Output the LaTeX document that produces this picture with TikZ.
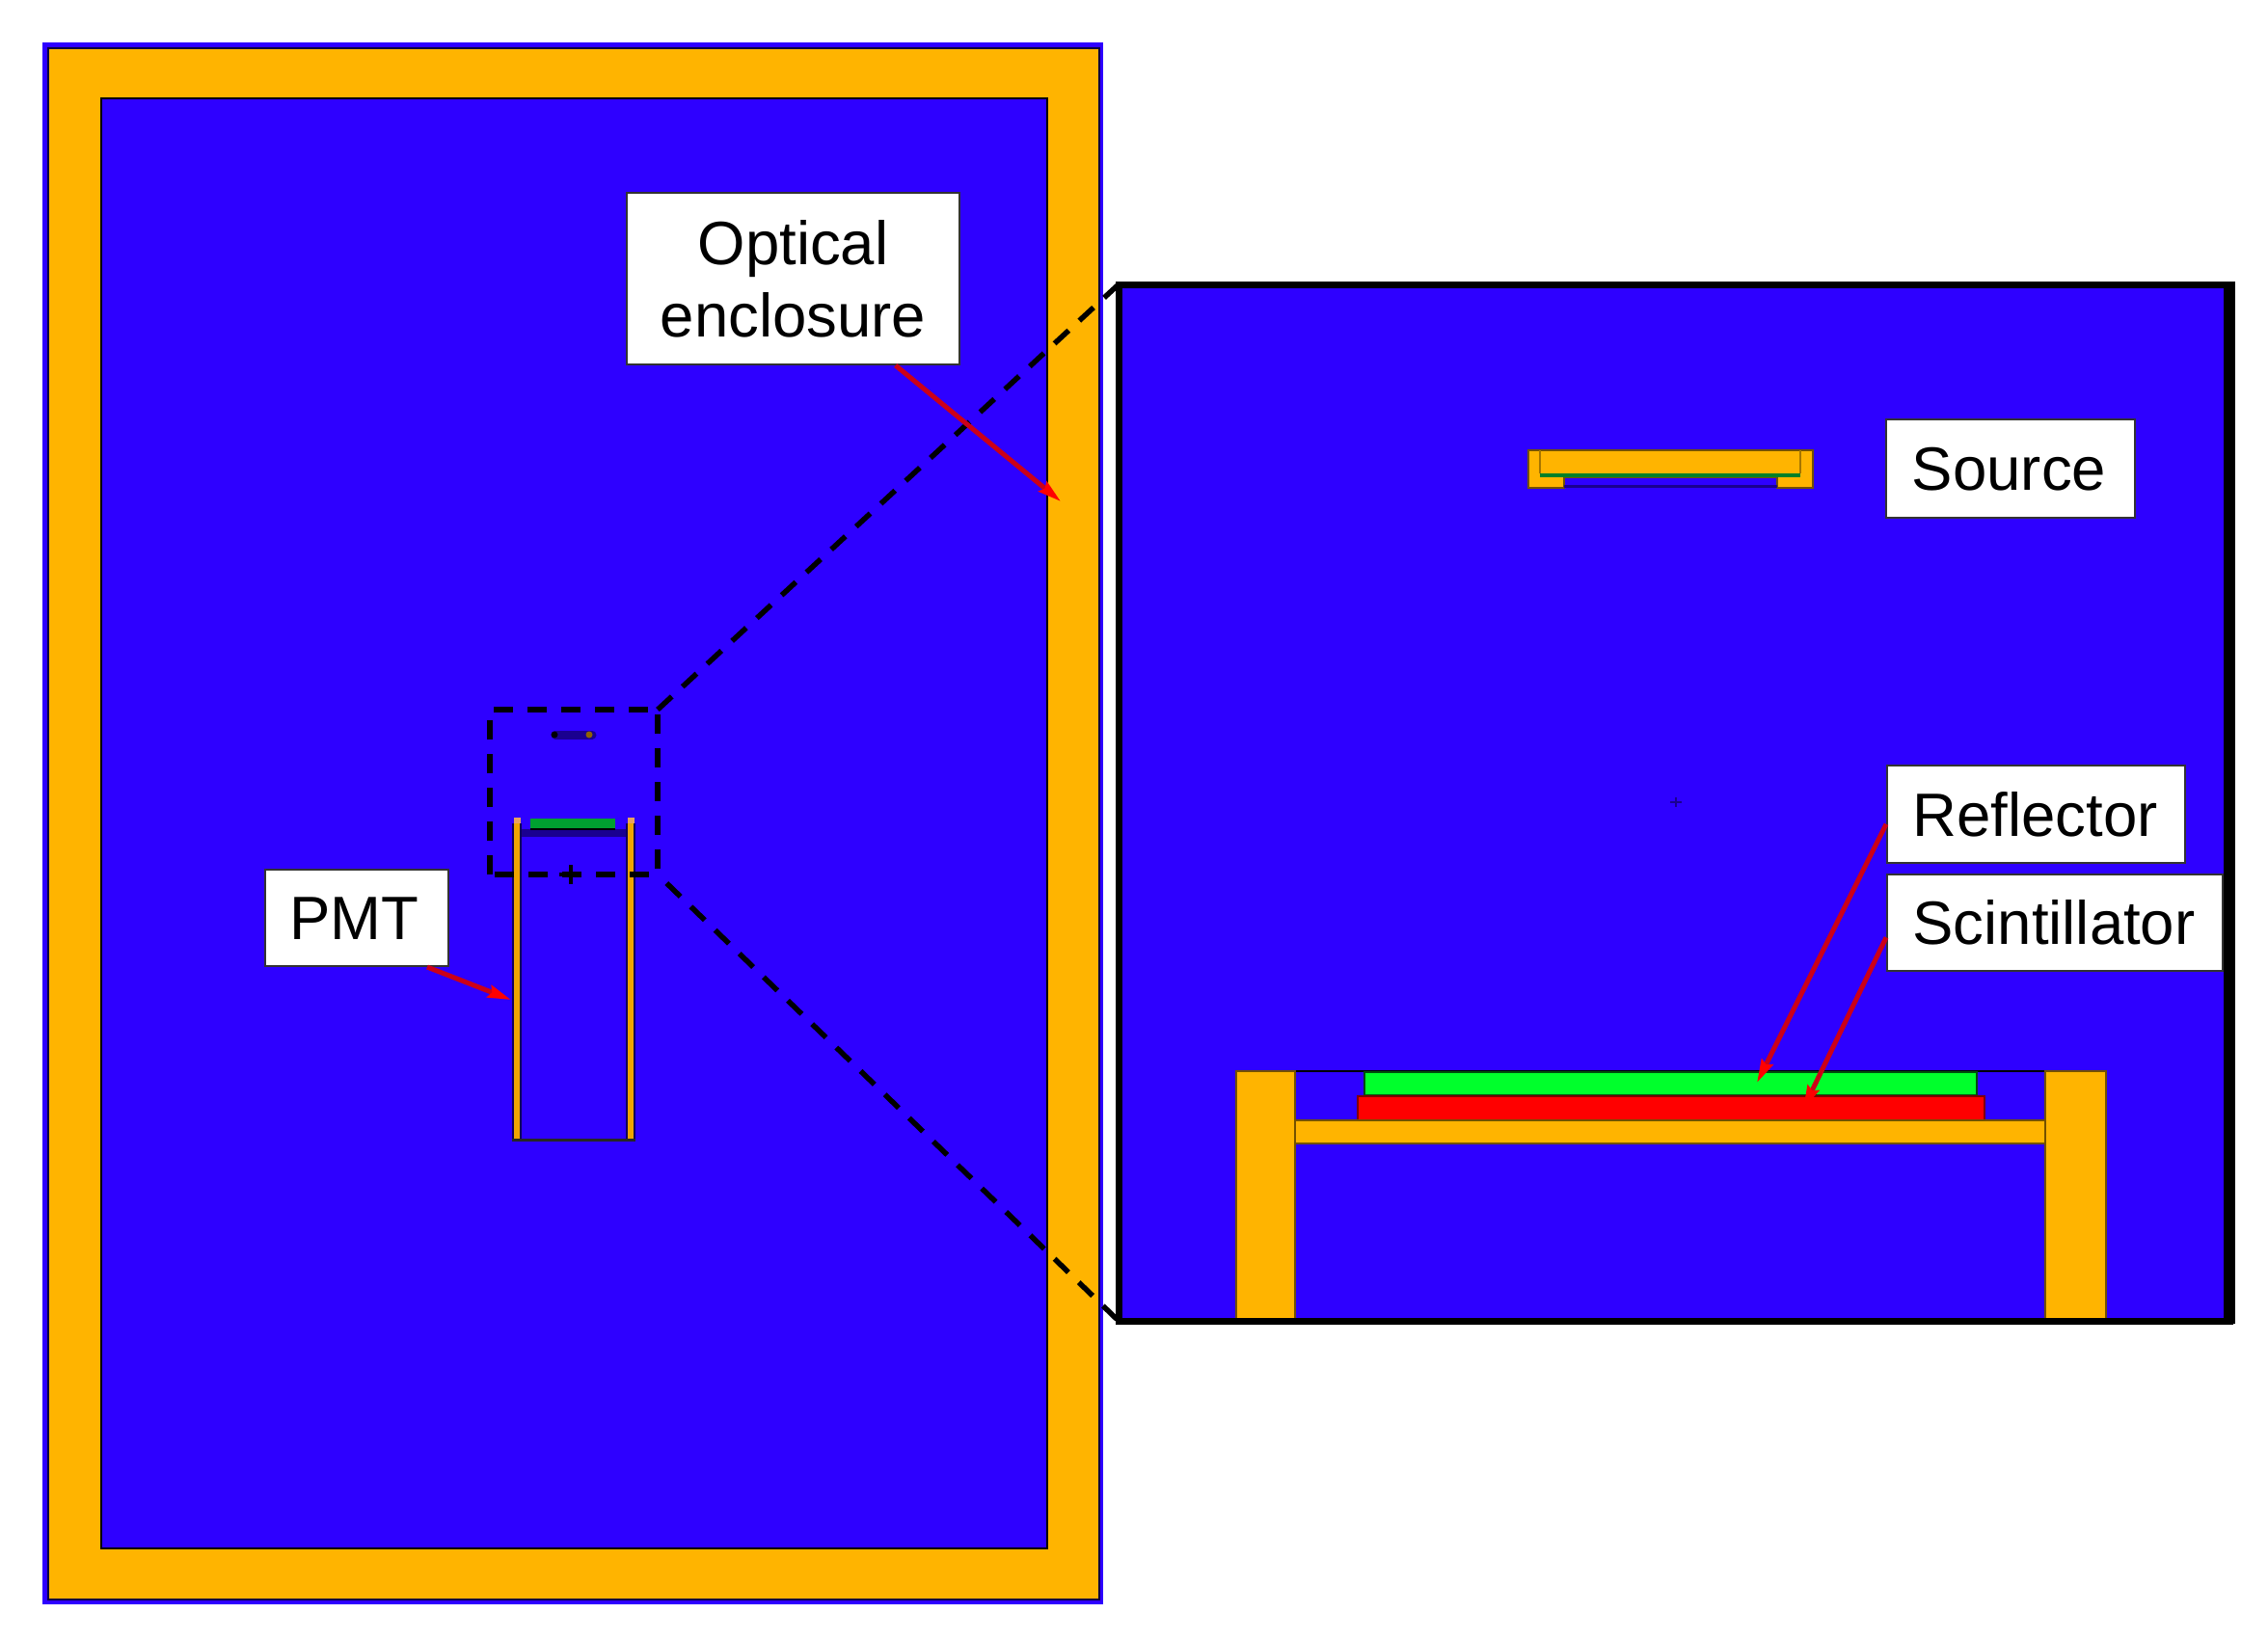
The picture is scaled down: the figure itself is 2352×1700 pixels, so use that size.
\documentclass[tikz,border=0pt]{standalone}
\usepackage{fontspec}
\setmainfont{Liberation Sans}
\usetikzlibrary{arrows.meta,calc}
\definecolor{encblue}{HTML}{2E00FF}
\definecolor{encorange}{HTML}{FFB400}
\definecolor{encgreen}{HTML}{00FF2C}
\definecolor{encred}{HTML}{FF0000}
\definecolor{linered}{HTML}{CC0018}
\definecolor{darkblue}{HTML}{1A0090}
\definecolor{midgreen}{HTML}{00A030}
\definecolor{wallorange}{HTML}{EFA400}
\definecolor{capcolor}{HTML}{E8A060}
\tikzset{
  x=1pt,y=-1pt,
  part/.style={draw=black!55!encorange,line width=1.2pt},
  labelbox/.style={draw=black!80,line width=2pt,fill=white,inner sep=0pt,text=black,
    font=\fontsize{63.5}{75}\selectfont,align=center},
  pointer/.style={draw=linered,line width=5pt,-{Stealth[length=24pt,width=13pt,inset=3pt,color=encred]}},
  zoomline/.style={draw=black,line width=5.5pt,dash pattern=on 20pt off 15pt},
}
\begin{document}
\begin{tikzpicture}
\useasboundingbox (0,0) rectangle (2352,1700);
\fill[white] (0,0) rectangle (2352,1700);
% enclosure
\fill[encblue] (44,44) rectangle (1144,1664);
\filldraw[fill=encorange,draw=black!75!encblue,line width=1.5pt] (50,50) rectangle (1140,1659);
\filldraw[fill=encblue,draw=black,line width=1.5pt] (105,102) rectangle (1086,1606);
% PMT in the overview
\fill[darkblue] (540,860) rectangle (650,868);
\fill[midgreen] (550,849) rectangle (638,860);
\draw[black,line width=1.5pt] (550,860) -- (638,860);
\fill[wallorange] (532.5,848) rectangle (539.5,1182);
\fill[wallorange] (650.5,848) rectangle (657.5,1182);
\fill[capcolor] (532.5,848) rectangle (539.5,854);
\fill[capcolor] (650.5,848) rectangle (657.5,854);
\draw[black!65!encblue,line width=1.4pt] (532,854) -- (532,1182) (540,854) -- (540,1182) (650,854) -- (650,1182) (658,854) -- (658,1182);
\draw[black!85,line width=3pt] (531,1182) -- (659,1182);
% small source in the overview
\draw[darkblue,line width=9pt,line cap=round] (576,762) -- (614,762);
\fill[black] (575,762) circle (3.5pt);
\fill[black!40!wallorange] (611,762) circle (3.5pt);
% small cross
\draw[black,line width=4pt] (580,907) -- (602,907) (592,897) -- (592,917);
% zoom frame
\coordinate (zsw) at (508,907);
\coordinate (znw) at (508,736);
\coordinate (zne) at (682,736);
\coordinate (zse) at (682,907);
\draw[zoomline,line join=round] (zsw) -- (znw) -- (zne) -- (zse) -- cycle;
% detail panel
\coordinate (pnw) at (1160,295);
\coordinate (pse) at (2312,1370);
\coordinate (psw) at (1160,1370);
\fill[encblue] (pnw) rectangle (pse);
\draw[zoomline] (zne) -- (pnw);
\draw[zoomline,dash phase=22pt] (zse) -- (psw);
% source detail
\filldraw[part,fill=encorange] (1585,467) -- (1880,467) -- (1880,506) -- (1843,506) -- (1843,495) -- (1622,495) -- (1622,506) -- (1585,506) -- cycle;
\draw[black!35!encorange,line width=1.5pt] (1597,467) -- (1597,491) (1867,491) -- (1867,467);
\fill[midgreen!80!black] (1597,491) rectangle (1867,494.5);
\fill[darkblue] (1622,503) rectangle (1843,506);
% cross in panel
\draw[darkblue,line width=1.5pt] (1732,832) -- (1744,832) (1738,827) -- (1738,837);
% scintillator stack
\draw[black,line width=2pt] (1343,1111) -- (2121,1111);
\filldraw[draw=black!70!encgreen,line width=1.5pt,fill=encgreen] (1415,1112) rectangle (2050,1136);
\filldraw[draw=black!50!encred,line width=1.5pt,fill=encred] (1408,1137) rectangle (2058,1162);
\filldraw[part,fill=encorange] (1343,1162) rectangle (2121,1186);
\filldraw[part,fill=encorange] (1282,1111) rectangle (1343,1370);
\filldraw[part,fill=encorange] (2121,1111) rectangle (2184,1370);
% panel border
\draw[black,line width=7pt] (pnw) rectangle (pse);
\fill[black] (2306,292) rectangle (2318,1373);
% labels
\node[labelbox,minimum width=345pt,minimum height=178pt] (optical) at (822.5,289) {Optical\\enclosure};
\node[labelbox,minimum width=258pt,minimum height=102pt,text height=45pt,text depth=0pt] (source) at (2085,486) {Source\hspace{3pt}};
\node[labelbox,minimum width=309pt,minimum height=101pt,text height=45pt,text depth=0pt] (reflector) at (2111.5,844.5) {Reflector\hspace{2pt}};
\node[labelbox,minimum width=348pt,minimum height=100pt,text height=45pt,text depth=0pt] (scint) at (2131,957) {Scintillator\hspace{2pt}};
\node[labelbox,minimum width=190pt,minimum height=100pt,text height=45pt,text depth=0pt] (pmt) at (370,952) {PMT\hspace{5pt}};
% pointers
\coordinate (tOpt) at (1100,520);
\coordinate (tRef) at (1822,1123);
\coordinate (tSci) at (1870,1150);
\coordinate (tPmt) at (530,1037);
\draw[pointer] ($(optical.south west)!0.806!(optical.south east)$) -- (tOpt);
\draw[pointer] ($(reflector.north west)!0.6!(reflector.south west)$) -- (tRef);
\draw[pointer] ($(scint.north west)!0.65!(scint.south west)$) -- (tSci);
\draw[pointer] ($(pmt.south west)!0.88!(pmt.south east)$) -- (tPmt);
\end{tikzpicture}
\end{document}
